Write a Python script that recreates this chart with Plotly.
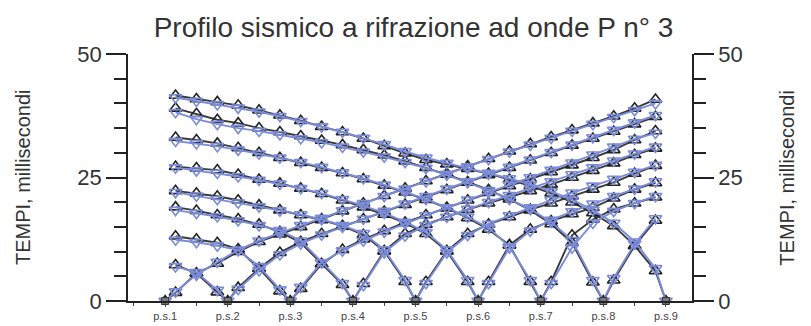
import plotly.graph_objects as go

# geophone positions (index along the line) and shot points
geofoni = list(range(1, 25))
pos_scoppi = [0.5, 3.5, 6.5, 9.5, 12.5, 15.5, 18.5, 21.5, 24.5]
etichette_scoppi = ["p.s.1", "p.s.2", "p.s.3", "p.s.4", "p.s.5", "p.s.6", "p.s.7", "p.s.8", "p.s.9"]

# first-arrival times, ms (observed = black, calculated = blue)
oss_ps1 = [1.7, 5.6, 7.6, 10.0, 12.0, 13.5, 15.0, 16.6, 18.2, 19.8, 21.3, 22.8, 24.3, 25.8, 27.3, 28.8, 30.3, 31.8, 33.2, 34.6, 36.0, 37.4, 39.0, 40.8]
oss_ps2 = [7.3, 5.6, 1.8, 2.7, 6.6, 9.8, 12.0, 13.6, 15.1, 16.6, 18.1, 19.5, 21.0, 22.5, 24.0, 25.5, 27.0, 28.5, 30.0, 31.5, 32.9, 34.3, 35.8, 37.3]
oss_ps3 = [13.1, 12.5, 11.8, 10.5, 6.6, 2.0, 2.5, 7.5, 10.4, 12.5, 14.2, 15.9, 17.4, 18.9, 20.4, 21.9, 23.3, 24.7, 26.1, 27.5, 29.0, 30.6, 32.6, 34.4]
oss_ps4 = [19.0, 18.3, 17.4, 16.6, 15.5, 14.0, 11.8, 7.5, 3.3, 3.5, 10.1, 13.6, 15.5, 17.0, 18.5, 19.8, 21.0, 22.3, 23.6, 25.0, 26.4, 27.9, 29.6, 30.9]
oss_ps5 = [22.3, 21.8, 21.2, 20.4, 19.4, 18.4, 17.4, 16.4, 15.2, 13.4, 10.1, 3.9, 3.9, 10.1, 13.6, 15.5, 17.0, 18.5, 19.8, 21.2, 22.6, 24.0, 25.8, 27.4]
oss_ps6 = [27.2, 26.9, 26.5, 25.6, 24.6, 23.8, 22.8, 21.7, 20.4, 19.0, 17.5, 15.8, 13.6, 10.1, 3.9, 3.9, 11.3, 14.5, 16.2, 17.6, 18.9, 20.8, 22.6, 23.9]
oss_ps7 = [33.1, 32.6, 31.9, 31.0, 30.0, 29.0, 28.0, 27.0, 25.9, 24.7, 23.4, 22.0, 20.5, 18.8, 16.8, 14.5, 11.3, 3.9, 3.9, 13.3, 16.5, 18.6, 19.8, 21.0]
oss_ps8 = [39.0, 37.9, 36.7, 36.0, 35.0, 34.2, 33.4, 32.5, 31.6, 30.6, 29.5, 28.3, 27.0, 25.6, 24.1, 22.5, 20.6, 18.4, 15.6, 11.8, 3.8, 4.2, 11.2, 16.3]
oss_ps9 = [41.6, 40.9, 40.3, 39.6, 38.6, 37.6, 36.5, 35.3, 34.2, 32.9, 31.4, 29.9, 28.6, 27.7, 26.8, 25.8, 24.6, 23.3, 21.8, 20.0, 17.8, 15.2, 11.2, 6.1]

calc_ps1 = [1.9, 5.3, 7.9, 10.3, 12.2, 13.8, 15.3, 16.8, 18.3, 19.8, 21.2, 22.7, 24.2, 25.7, 27.2, 28.7, 30.2, 31.6, 33.0, 34.4, 35.8, 37.2, 38.6, 40.0]
calc_ps2 = [7.0, 5.8, 2.2, 2.4, 6.2, 9.4, 11.6, 13.4, 15.0, 16.6, 18.2, 19.7, 21.2, 22.7, 24.2, 25.7, 27.1, 28.6, 30.1, 31.6, 33.1, 34.6, 36.1, 37.6]
calc_ps3 = [12.4, 11.9, 11.2, 10.3, 7.0, 2.3, 2.8, 7.8, 10.2, 12.2, 14.0, 15.7, 17.3, 18.9, 20.5, 22.0, 23.5, 25.0, 26.5, 28.0, 29.6, 31.2, 32.8, 34.0]
calc_ps4 = [18.4, 17.8, 17.1, 16.3, 15.3, 14.3, 12.2, 7.8, 3.6, 3.2, 9.8, 13.2, 15.3, 17.0, 18.6, 20.0, 21.4, 22.8, 24.2, 25.6, 27.0, 28.4, 29.8, 31.2]
calc_ps5 = [22.0, 21.3, 20.6, 19.9, 19.1, 18.3, 17.5, 16.5, 15.3, 13.7, 10.4, 4.2, 3.6, 9.8, 13.3, 15.6, 17.3, 18.9, 20.4, 21.9, 23.3, 24.7, 26.1, 27.5]
calc_ps6 = [27.0, 26.4, 25.9, 25.2, 24.5, 23.7, 22.8, 21.8, 20.6, 19.3, 17.8, 16.0, 13.9, 10.4, 4.2, 3.6, 10.8, 14.2, 16.4, 18.1, 19.7, 21.2, 22.7, 24.2]
calc_ps7 = [32.4, 31.9, 31.3, 30.6, 29.8, 29.0, 28.1, 27.1, 26.0, 24.8, 23.5, 22.1, 20.6, 18.9, 17.0, 14.8, 11.0, 4.2, 3.6, 10.8, 15.8, 18.2, 19.8, 21.2]
calc_ps8 = [38.2, 36.8, 35.8, 35.0, 34.4, 33.7, 32.9, 32.1, 31.2, 30.2, 29.2, 28.1, 26.9, 25.5, 24.0, 22.4, 20.6, 18.6, 16.0, 12.3, 4.2, 4.6, 11.6, 16.7]
calc_ps9 = [41.2, 40.5, 39.8, 39.1, 38.3, 37.4, 36.4, 35.3, 34.2, 33.0, 31.7, 30.3, 29.0, 27.9, 26.9, 25.9, 24.8, 23.6, 22.2, 20.5, 18.4, 15.8, 12.0, 6.6]

osservati = [oss_ps1, oss_ps2, oss_ps3, oss_ps4, oss_ps5, oss_ps6, oss_ps7, oss_ps8, oss_ps9]
calcolati = [calc_ps1, calc_ps2, calc_ps3, calc_ps4, calc_ps5, calc_ps6, calc_ps7, calc_ps8, calc_ps9]

NERO = "#3a3a3a"
BLU = "#7b8cda"
FONT = "Liberation Sans Narrow, Liberation Sans, Arial, sans-serif"


def con_scoppio(sp, tempi):
    """Merge geophone picks with the shot point (t = 0), sorted by position."""
    pts = sorted(list(zip(geofoni, tempi)) + [(sp, 0.0)])
    return [p[0] for p in pts], [p[1] for p in pts]


fig = go.Figure()

for sp, tempi in zip(pos_scoppi, osservati):
    xs, ys = con_scoppio(sp, tempi)
    fig.add_trace(go.Scatter(
        x=xs, y=ys, mode="lines+markers",
        line=dict(color=NERO, width=1.9),
        marker=dict(symbol="triangle-up-open", size=11, color="#222222", line=dict(width=1.6)),
        showlegend=False,
    ))

for sp, tempi in zip(pos_scoppi, calcolati):
    xs, ys = con_scoppio(sp, tempi)
    fig.add_trace(go.Scatter(
        x=xs, y=ys, mode="lines+markers",
        line=dict(color=BLU, width=1.9),
        marker=dict(symbol="triangle-down-open", size=11, color=BLU, line=dict(width=1.6)),
        showlegend=False,
    ))

fig.add_trace(go.Scatter(
    x=pos_scoppi, y=[0] * len(pos_scoppi), mode="markers",
    marker=dict(symbol="square", size=7, color="#7a7a7a", line=dict(color="#333333", width=1)),
    showlegend=False, cliponaxis=False,
))

# dummy trace so the right-hand axis is drawn
fig.add_trace(go.Scatter(x=[None], y=[None], yaxis="y2", showlegend=False, hoverinfo="skip"))

asse_y = dict(
    range=[0, 50], tickvals=[0, 25, 50], ticks="outside", ticklen=20, tickwidth=1.5,
    tickcolor="#222222", showline=True, linecolor="#222222", linewidth=1.5,
    showgrid=False, zeroline=False,
    tickfont=dict(family="Liberation Sans, Arial, sans-serif", size=22, color="#333333"),
    minor=dict(dtick=5, tick0=0, ticks="outside", ticklen=12, tickwidth=1.5, tickcolor="#222222"),
)

fig.update_layout(
    width=811, height=326,
    margin=dict(l=120, r=127, t=46, b=21),
    paper_bgcolor="white", plot_bgcolor="white",
    title=dict(text="Profilo sismico a rifrazione ad onde P n° 3", x=0.5, xanchor="center",
               y=0.94, yanchor="middle", font=dict(family=FONT, size=28, color="#333333")),
    xaxis=dict(
        range=[-1.28, 25.75], tickvals=pos_scoppi, ticktext=etichette_scoppi,
        ticks="outside", ticklen=4, tickwidth=1, tickcolor="#444444",
        showline=True, linecolor="#222222", linewidth=1.5, showgrid=False, zeroline=False,
        tickfont=dict(family=FONT, size=11, color="#444444"),
        minor=dict(tick0=0.5, dtick=1.5, ticks="outside", ticklen=3, tickcolor="#444444"),
    ),
    yaxis=dict(side="left", **asse_y),
    yaxis2=dict(side="right", overlaying="y", **asse_y),
    annotations=[
        dict(text="TEMPI, millisecondi", textangle=-90, xref="paper", yref="paper",
             x=-0.21, y=0.5, showarrow=False,
             font=dict(family="Liberation Sans, Arial, sans-serif", size=20, color="#333333")),
        dict(text="TEMPI, millisecondi", textangle=-90, xref="paper", yref="paper",
             x=1.19, y=0.5, showarrow=False,
             font=dict(family="Liberation Sans, Arial, sans-serif", size=20, color="#333333")),
    ],
)

fig.write_html("out.html")
